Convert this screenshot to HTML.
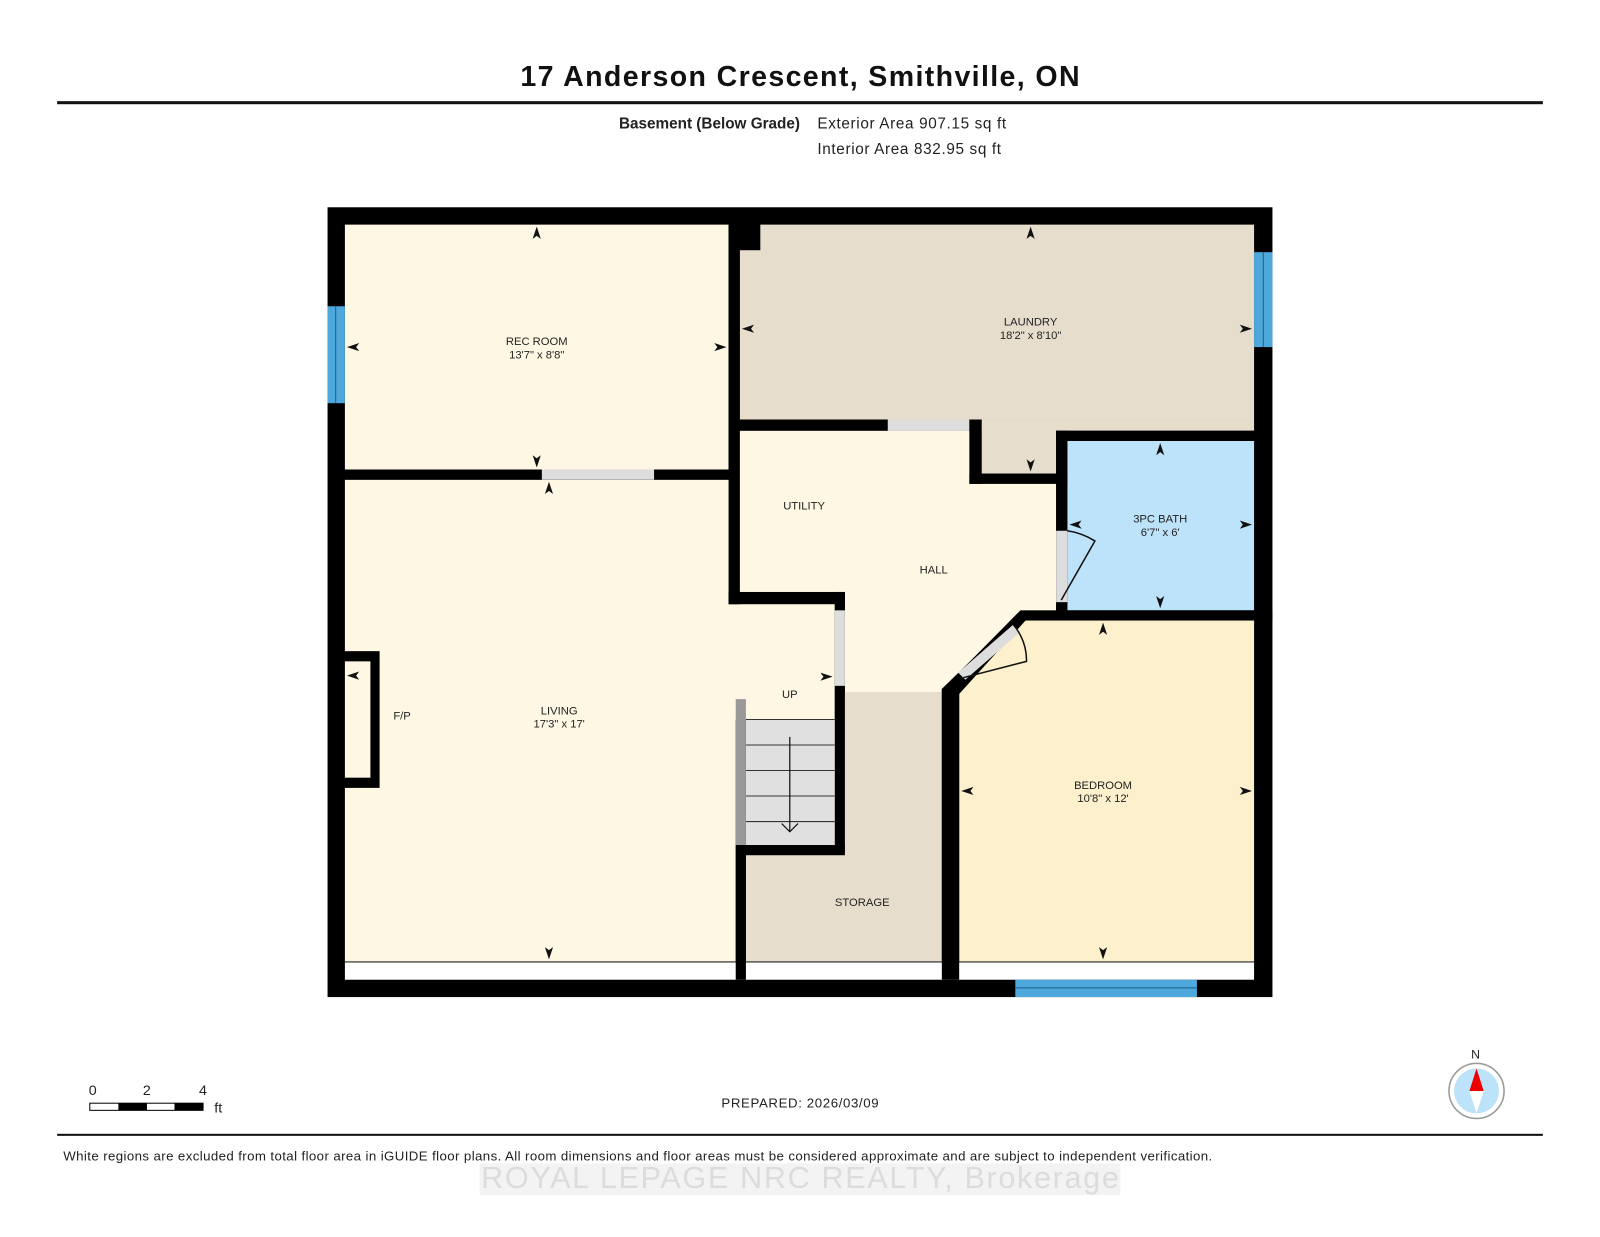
<!DOCTYPE html>
<html><head><meta charset="utf-8"><style>
html,body{margin:0;padding:0;background:#fff;}
svg{display:block;}
text{font-family:"Liberation Sans",Arial,sans-serif;}
</style></head><body>
<svg width="1600" height="1237" viewBox="0 0 1568 1212" xmlns="http://www.w3.org/2000/svg">
<rect width="1568" height="1212" fill="#fff"/>
<text x="784" y="84" text-anchor="middle" font-size="28" font-weight="bold" fill="#111" textLength="548">17 Anderson Crescent, Smithville, ON</text>
<rect x="56" y="99" width="1456" height="3" fill="#111"/>
<text x="784" y="126" text-anchor="end" font-size="15" font-weight="bold" fill="#222">Basement (Below Grade)</text>
<text x="801" y="126" font-size="15" fill="#222" textLength="185">Exterior Area 907.15 sq ft</text>
<text x="801" y="151" font-size="15" fill="#222" textLength="180">Interior Area 832.95 sq ft</text>

<rect x="321" y="203" width="926" height="774" fill="#000"/>
<rect x="338" y="942" width="891" height="18" fill="#fff"/>
<line x1="338" y1="942.5" x2="1229" y2="942.5" stroke="#222" stroke-width="1.2"/>
<rect x="338" y="220" width="376" height="240" fill="#fef7e3"/>
<rect x="338" y="470" width="383" height="472" fill="#fef7e3"/>
<rect x="720" y="590" width="99" height="115" fill="#fef7e3"/>
<rect x="725" y="245" width="504" height="166" fill="#e7ddcd"/>
<rect x="745" y="220" width="484" height="30" fill="#e7ddcd"/>
<rect x="962" y="411" width="267" height="11" fill="#e7ddcd"/>
<rect x="962" y="420" width="73" height="44" fill="#e7ddcd"/>
<rect x="725" y="422" width="225" height="158" fill="#fef7e3"/>
<polygon points="950,474 1035,474 1035,600 1000,600 923,675 923,678 828,678 828,580 725,580 725,422 950,422" fill="#fef7e3"/>
<rect x="1046" y="432" width="183" height="166" fill="#bde3fb"/>
<polygon points="1005,608 1229,608 1229,942 940,942 940,680" fill="#fdf0cc"/>
<rect x="731" y="678" width="192" height="264" fill="#e7ddcd"/>
<rect x="720" y="592" width="98" height="113" fill="#fef7e3"/>
<rect x="338" y="460" width="383" height="10" fill="#000"/>
<rect x="531" y="460" width="110" height="10" fill="#ddd"/>
<rect x="714" y="220" width="11" height="372" fill="#000"/>
<rect x="714" y="220" width="31" height="25" fill="#000"/>
<rect x="714" y="411" width="156" height="11" fill="#000"/>
<rect x="870" y="411" width="80" height="11" fill="#ddd"/>
<rect x="950" y="411" width="12" height="63" fill="#000"/>
<rect x="950" y="464" width="96" height="10" fill="#000"/>
<rect x="1035" y="422" width="11" height="178" fill="#000"/>
<rect x="1035" y="422" width="194" height="10" fill="#000"/>
<rect x="1035" y="520" width="11" height="70" fill="#ddd"/>
<path d="M1046,520 A70,70 0 0 1 1073,530 L1040,588" fill="none" stroke="#111" stroke-width="1.5"/>
<rect x="1000" y="598" width="247" height="10" fill="#000"/>
<polygon points="1000,598 1008,605 930,683 923,676" fill="#000"/>
<polygon points="993,612 1000,619 946,666 939,659" fill="#ddd"/>
<path d="M993,612 A55,55 0 0 1 1006,648 L944,664" fill="none" stroke="#111" stroke-width="1.5"/>
<rect x="923" y="675" width="17" height="285" fill="#000"/>
<rect x="714" y="580" width="114" height="12" fill="#000"/>
<rect x="818" y="580" width="10" height="255" fill="#000"/>
<rect x="818" y="598" width="10" height="74" fill="#ddd"/>
<rect x="731" y="705" width="87" height="123" fill="#e0e0e0"/>
<g stroke="#333" stroke-width="1"><line x1="731" y1="705" x2="818" y2="705"/><line x1="731" y1="730" x2="818" y2="730"/><line x1="731" y1="755" x2="818" y2="755"/><line x1="731" y1="780" x2="818" y2="780"/><line x1="731" y1="805" x2="818" y2="805"/></g>
<line x1="774" y1="722" x2="774" y2="815" stroke="#111" stroke-width="1.2"/>
<path d="M766,807 L774,815 L782,807" fill="none" stroke="#111" stroke-width="1.2"/>
<rect x="721" y="685" width="10" height="145" fill="#999"/>
<rect x="721" y="828" width="107" height="10" fill="#000"/>
<rect x="721" y="838" width="10" height="122" fill="#000"/>
<rect x="334" y="638" width="38" height="134" fill="#000"/>
<rect x="338" y="648" width="25" height="114" fill="#fef7e3"/>
<rect x="321" y="300" width="17" height="95" fill="#4fa8dc"/>
<line x1="329" y1="300" x2="329" y2="395" stroke="#1d5f8a" stroke-width="1"/>
<rect x="1229" y="247" width="18" height="93" fill="#4fa8dc"/>
<line x1="1238" y1="247" x2="1238" y2="340" stroke="#1d5f8a" stroke-width="1"/>
<rect x="995" y="960" width="178" height="17" fill="#4fa8dc"/>
<line x1="995" y1="968" x2="1173" y2="968" stroke="#1d5f8a" stroke-width="1"/>
<g fill="#111">
<path d="M526,222 l-4,12 l4,-3 l4,3z"/><path d="M526,458 l-4,-12 l4,3 l4,-3z"/>
<path d="M340,340 l12,-4 l-3,4 l3,4z"/><path d="M712,340 l-12,-4 l3,4 l-3,4z"/>
<path d="M538,472 l-4,12 l4,-3 l4,3z"/><path d="M538,940 l-4,-12 l4,3 l4,-3z"/>
<path d="M1010,222 l-4,12 l4,-3 l4,3z"/><path d="M1010,462 l-4,-12 l4,3 l4,-3z"/>
<path d="M727,322 l12,-4 l-3,4 l3,4z"/><path d="M1227,322 l-12,-4 l3,4 l-3,4z"/>
<path d="M1137,434 l-4,12 l4,-3 l4,3z"/><path d="M1137,596 l-4,-12 l4,3 l4,-3z"/>
<path d="M1048,514 l12,-4 l-3,4 l3,4z"/><path d="M1227,514 l-12,-4 l3,4 l-3,4z"/>
<path d="M1081,610 l-4,12 l4,-3 l4,3z"/><path d="M1081,940 l-4,-12 l4,3 l4,-3z"/>
<path d="M942,775 l12,-4 l-3,4 l3,4z"/><path d="M1227,775 l-12,-4 l3,4 l-3,4z"/>
<path d="M340,662 l12,-4 l-3,4 l3,4z"/><path d="M816,663 l-12,-4 l3,4 l-3,4z"/>
</g>
<g font-size="11" fill="#222" text-anchor="middle">
<text x="526" y="338">REC ROOM</text><text x="526" y="351">13'7" x 8'8"</text>
<text x="1010" y="319">LAUNDRY</text><text x="1010" y="332">18'2" x 8'10"</text>
<text x="1137" y="512">3PC BATH</text><text x="1137" y="525">6'7" x 6'</text>
<text x="788" y="499">UTILITY</text><text x="915" y="562">HALL</text>
<text x="548" y="700">LIVING</text><text x="548" y="713">17'3" x 17'</text>
<text x="394" y="705">F/P</text><text x="774" y="684">UP</text>
<text x="1081" y="773">BEDROOM</text><text x="1081" y="786">10'8" x 12'</text>
<text x="845" y="888">STORAGE</text>
</g>
<g font-size="14" fill="#222"><text x="87" y="1073">0</text><text x="140" y="1073">2</text><text x="195" y="1073">4</text><text x="210" y="1090">ft</text></g>
<rect x="88" y="1081" width="111" height="7" fill="#fff" stroke="#000" stroke-width="1"/>
<rect x="116" y="1081" width="28" height="7" fill="#000"/><rect x="171" y="1081" width="28" height="7" fill="#000"/>
<text x="784" y="1085" text-anchor="middle" font-size="13" fill="#222" textLength="154">PREPARED: 2026/03/09</text>
<text x="1446" y="1037" text-anchor="middle" font-size="12" fill="#222">N</text>
<circle cx="1447" cy="1069" r="27" fill="#fff" stroke="#999" stroke-width="1.5"/>
<circle cx="1447" cy="1069" r="22" fill="#bde3fb"/>
<polygon points="1447,1047 1440,1069 1454,1069" fill="#e00"/>
<polygon points="1447,1091 1440,1069 1454,1069" fill="#fff"/>
<rect x="56" y="1111" width="1456" height="2" fill="#111"/>
<text x="62" y="1137" font-size="13" fill="#222" textLength="1126">White regions are excluded from total floor area in iGUIDE floor plans. All room dimensions and floor areas must be considered approximate and are subject to independent verification.</text>
<rect x="470" y="1140" width="628" height="31" fill="#f3f3f3"/>
<text x="784" y="1164" text-anchor="middle" font-size="30" fill="#dcdcdc" textLength="625">ROYAL LEPAGE NRC REALTY, Brokerage</text>
</svg>
</body></html>
